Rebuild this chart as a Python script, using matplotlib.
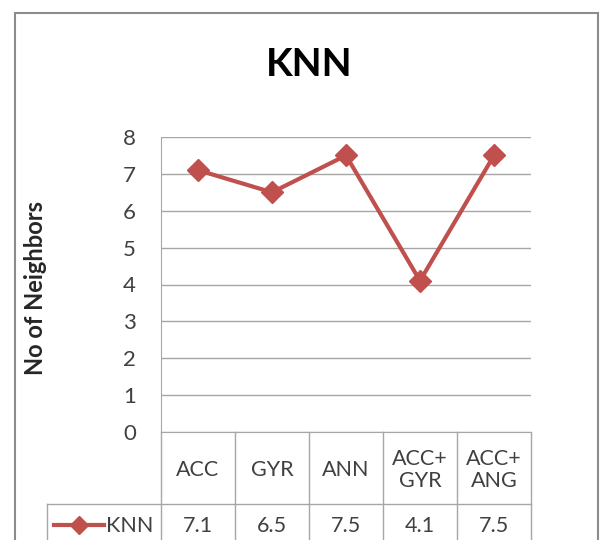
import matplotlib.pyplot as plt
from matplotlib.patches import Rectangle
from matplotlib.lines import Line2D

plt.rcParams['font.family'] = ['Lato', 'DejaVu Sans']

categories = ["ACC", "GYR", "ANN", "ACC+\nGYR", "ACC+\nANG"]
knn_values = [7.1, 6.5, 7.5, 4.1, 7.5]
value_labels = ["7.1", "6.5", "7.5", "4.1", "7.5"]
series_name = "KNN"

W, H = 602, 540
line_color = "#C0504D"
grid_color = "#A6A6A6"
text_color = "#404040"

fig = plt.figure(figsize=(W / 100, H / 100), dpi=100)

# outer chart border
fig.patches.append(Rectangle((15 / W, -0.01), 583 / W, 1 - 13 / H + 0.01,
                             transform=fig.transFigure, fill=False,
                             edgecolor="#8C8C8C", linewidth=1.5))

ax_left, ax_right, ax_top, ax_bottom = 161, 531, 137, 432
ax = fig.add_axes([ax_left / W, 1 - ax_bottom / H,
                   (ax_right - ax_left) / W, (ax_bottom - ax_top) / H])
ax.set_facecolor("none")

x = list(range(len(categories)))
ax.plot(x, knn_values, color=line_color, linewidth=3, marker="D",
        markersize=11, markerfacecolor=line_color, markeredgecolor=line_color,
        zorder=3)

ax.set_xlim(-0.5, len(categories) - 0.5)
ax.set_ylim(0, 8)
ax.set_yticks(range(0, 9))
ax.set_xticks([])
ax.tick_params(axis="y", length=0, pad=18, labelsize=16, labelcolor=text_color)
ax.yaxis.grid(True, color=grid_color, linewidth=1)
ax.set_axisbelow(True)
for side in ["top", "right"]:
    ax.spines[side].set_visible(False)
ax.spines["left"].set_color(grid_color)
ax.spines["bottom"].set_color(grid_color)

# title is centred on the whole chart, not on the plot area
fig.text(309 / W, 1 - 64 / H, "KNN", fontsize=28, fontweight="bold",
         ha="center", va="center")
fig.text(36 / W, 1 - 288 / H, "No of Neighbors", rotation=90, fontsize=17,
         fontweight="bold", ha="center", va="center", color="#262626")

# data table under the axis
ph = ax_bottom - ax_top
def ay(py):
    return -(py - ax_bottom) / ph

tr = ax.get_xaxis_transform()
hdr_bot = ay(504)
tbl_bot = ay(560)
for i in range(len(categories) + 1):
    ax.add_line(Line2D([i - 0.5, i - 0.5], [0, tbl_bot], transform=tr,
                       color=grid_color, linewidth=1, clip_on=False))
cat_w = (ax_right - ax_left) / len(categories)
leg_left = -0.5 - (ax_left - 47) / cat_w
ax.add_line(Line2D([leg_left, len(categories) - 0.5], [hdr_bot, hdr_bot],
                   transform=tr, color=grid_color, linewidth=1, clip_on=False))
ax.add_line(Line2D([leg_left, leg_left], [hdr_bot, tbl_bot], transform=tr,
                   color=grid_color, linewidth=1, clip_on=False))

for i, (c, v) in enumerate(zip(categories, value_labels)):
    ax.text(i, ay(470), c, transform=tr, ha="center", va="center",
            fontsize=15.5, color=text_color, linespacing=1.15)
    ax.text(i, ay(526), v, transform=tr, ha="center", va="center",
            fontsize=15.5, color=text_color)

# legend key in the table
k0 = -0.5 - (ax_left - 54) / cat_w
k1 = -0.5 - (ax_left - 104) / cat_w
ax.add_line(Line2D([k0, k1], [ay(525), ay(525)], transform=tr,
                   color=line_color, linewidth=3, clip_on=False))
ax.add_line(Line2D([(k0 + k1) / 2], [ay(525)], transform=tr, marker="D",
                   markersize=9, color=line_color, clip_on=False))
ax.text(-0.5 - (ax_left - 106) / cat_w, ay(526), series_name, transform=tr,
        ha="left", va="center", fontsize=15.5, color=text_color)

fig.savefig("out.png", dpi=100)
